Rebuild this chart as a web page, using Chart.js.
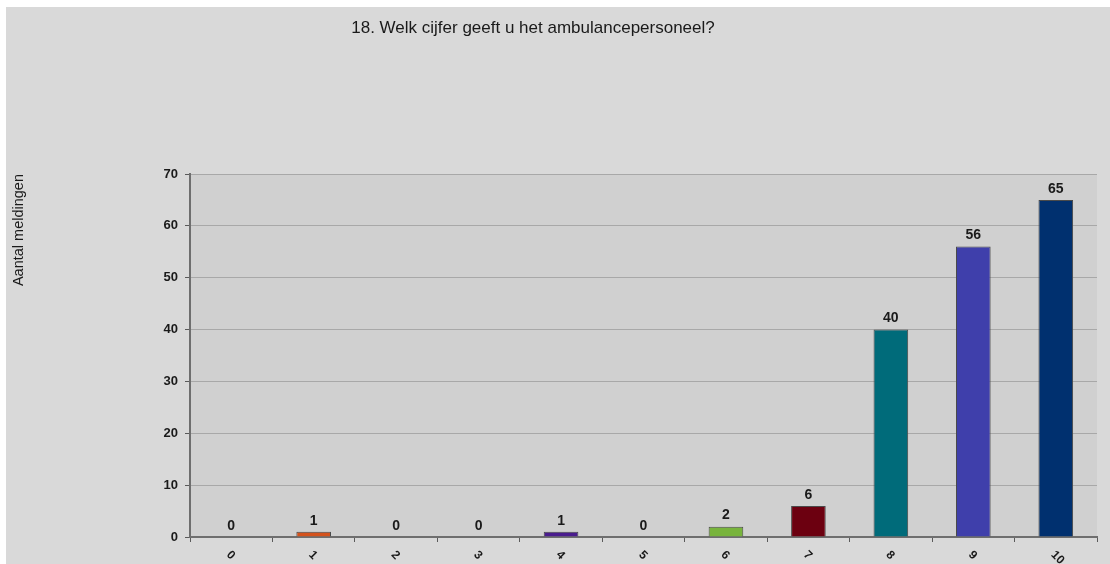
<!DOCTYPE html>
<html>
<head>
<meta charset="utf-8">
<script src="https://cdn.jsdelivr.net/npm/chart.js@4.4.1/dist/chart.umd.min.js"></script>
<style>
  html, body { margin: 0; padding: 0; background: #fff; }
  #wrap { position: absolute; left: 6px; top: 7px; width: 1104px; height: 557px; background: #d9d9d9; }
</style>
</head>
<body>
<div id="wrap"><canvas id="chart" width="1104" height="557"></canvas></div>
<script>
// chart data
var chartTitle = '18. Welk cijfer geeft u het ambulancepersoneel?';
var yTitle = 'Aantal meldingen';
var categories = ['0', '1', '2', '3', '4', '5', '6', '7', '8', '9', '10'];
var counts = [0, 1, 0, 0, 1, 0, 2, 6, 40, 56, 65];
var barColors = ['#8e8e8e', '#d4521c', '#8e8e8e', '#8e8e8e', '#4a1c8e', '#8e8e8e',
                 '#78b43c', '#6c0010', '#006b7a', '#3f3fab', '#00306f'];

var fontFamily = '"Liberation Sans", Arial, sans-serif';

// grey plot area behind the bars
const plotBg = {
    id: 'plotBg',
    beforeDraw(chart) {
        const {ctx, chartArea: a} = chart;
        ctx.save();
        ctx.fillStyle = '#d0d0d0';
        ctx.fillRect(a.left, a.top, a.right - a.left, a.bottom - a.top);
        ctx.restore();
    }
};

// title, value labels and slanted category labels
const extras = {
    id: 'extras',
    afterDraw(chart) {
        const ctx = chart.ctx;
        ctx.save();
        ctx.fillStyle = '#1a1a1a';
        ctx.font = '17px ' + fontFamily;
        ctx.textAlign = 'center';
        ctx.textBaseline = 'middle';
        ctx.fillText(chartTitle, 527, 21);

        // values above bars
        ctx.font = 'bold 14px ' + fontFamily;
        ctx.textBaseline = 'bottom';
        chart.getDatasetMeta(0).data.forEach((bar, i) => {
            ctx.fillText(String(counts[i]), bar.x, bar.y - 4);
        });

        // x labels, turned 45 degrees clockwise
        const x = chart.scales.x;
        ctx.font = 'bold 12px ' + fontFamily;
        ctx.textAlign = 'left';
        ctx.textBaseline = 'middle';
        categories.forEach((c, i) => {
            ctx.save();
            ctx.translate(x.getPixelForTick(i) - 3, x.bottom - 11);
            ctx.rotate(Math.PI / 4);
            ctx.fillText(c, 0, 0);
            ctx.restore();
        });
        ctx.restore();
    }
};

new Chart('chart', {
    type: 'bar',
    data: {
        labels: categories,
        datasets: [{
            data: counts,
            backgroundColor: barColors,
            borderColor: '#4a4a4a',
            borderWidth: 1,
            barPercentage: 0.42,
            categoryPercentage: 1
        }]
    },
    options: {
        responsive: false,
        animation: false,
        layout: { padding: { top: 167, right: 13, left: 0, bottom: 0 } },
        plugins: {
            legend: { display: false },
            tooltip: { enabled: false }
        },
        scales: {
            x: {
                offset: true,
                grid: { offset: true, drawOnChartArea: false, drawTicks: true, tickLength: 5, tickColor: '#5a5a5a', tickWidth: 1 },
                border: { color: '#6e6e6e', width: 2 },
                ticks: { display: false },
                afterFit(s) { s.height = 27; }
            },
            y: {
                min: 0,
                max: 70,
                ticks: { stepSize: 10, color: '#1a1a1a', padding: 7, font: { family: fontFamily, size: 13, weight: 'bold' } },
                grid: { color: '#a8a8a8', lineWidth: 1, tickLength: 5, tickColor: '#5a5a5a' },
                border: { color: '#6e6e6e', width: 2 },
                title: {
                    display: true,
                    text: yTitle,
                    align: 'end',
                    color: '#1a1a1a',
                    padding: { top: 4, bottom: 0 },
                    font: { family: fontFamily, size: 14.5 }
                },
                afterFit(s) { s.width = 184; }
            }
        }
    },
    plugins: [plotBg, extras]
});
</script>
</body>
</html>
